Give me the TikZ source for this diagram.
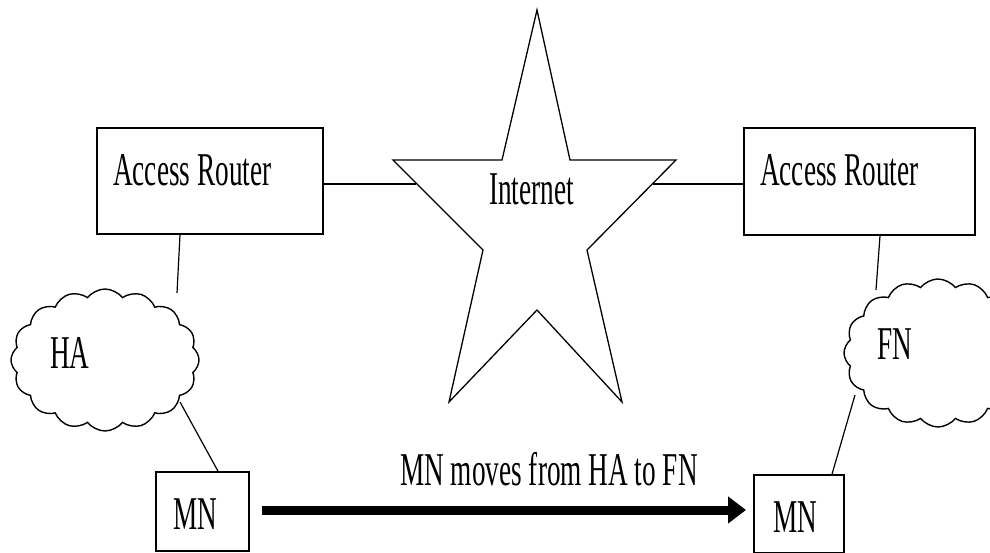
\documentclass[tikz,border=0pt]{standalone}
\usepackage{graphicx}
\usepackage{fontspec}
\setmainfont{Liberation Serif}
\usetikzlibrary{shapes.symbols,arrows.meta}
\newcommand{\lbl}[1]{\scalebox{0.58}[1]{\fontsize{47}{56}\selectfont #1}}
\begin{document}
\begin{tikzpicture}[x=1pt,y=-1pt,
  box/.style={draw, line width=1.6pt, inner sep=0pt, rectangle},
  txt/.style={inner sep=0pt, anchor=base west},
  link/.style={line width=1.2pt},
  starline/.style={line width=1.3pt, line join=miter},
  cloudnode/.style={cloud, draw, line width=1.4pt, cloud puffs=16, cloud puff arc=105, cloud ignores aspect, inner sep=0pt},
  movearrow/.style={line width=9pt, -{Triangle[length=18pt,width=26pt]}}
]
\useasboundingbox (0,0) rectangle (990,553);
\clip (0,0) rectangle (990,553);

% access routers
\node[box, minimum width=226pt, minimum height=106pt] (arl) at (210,181) {};
\node[txt] (arltxt) at (113,186) {\lbl{Access Router}};
\node[box, minimum width=231pt, minimum height=107pt] (arr) at (859.5,181.5) {};
\node[txt] (arrtxt) at (760,186) {\lbl{Access Router}};

% internet star
\coordinate (st1) at (537,10);
\coordinate (st2) at (570,160);
\coordinate (st3) at (676,160);
\coordinate (st4) at (587,250);
\coordinate (st5) at (622,402);
\coordinate (st6) at (537,310);
\coordinate (st7) at (449,402);
\coordinate (st8) at (483,250);
\coordinate (st9) at (393,160);
\coordinate (st10) at (502,160);
\draw[starline] (st1) -- (st2) -- (st3) -- (st4) -- (st5) -- (st6) -- (st7) -- (st8) -- (st9) -- (st10) -- cycle;
\node[txt] (inet) at (489,205) {\lbl{Internet}};
\coordinate (sl) at (416,184);
\coordinate (sr) at (653,184);
\draw[link] (arl.east |- sl) -- (sl);
\draw[link] (sr) -- (arr.west |- sr);

% clouds
\node[cloudnode, minimum width=188pt, minimum height=142pt] (ha) at (105,360) {};
\node[txt] (hatxt) at (50,368) {\lbl{HA}};
\node[cloudnode, minimum width=188pt, minimum height=148pt] (fn) at (938,353) {};
\node[txt] (fntxt) at (877,359) {\lbl{FN}};

% mobile nodes
\node[box, minimum width=93pt, minimum height=79pt] (mnl) at (202.5,511.5) {};
\node[txt] (mnltxt) at (173,529) {\lbl{MN}};
\node[box, minimum width=90pt, minimum height=78pt] (mnr) at (799,514) {};
\node[txt] (mnrtxt) at (773,532) {\lbl{MN}};

% links
\coordinate (hatop) at (177,293);
\coordinate (habot) at (180,402);
\coordinate (fntop) at (876,290);
\coordinate (fnbot) at (855,395);
\draw[link] (arl.south -| 180,0) -- (hatop);
\draw[link] (habot) -- (mnl.north -| 218,0);
\draw[link] (arr.south -| 880,0) -- (fntop);
\draw[link] (fnbot) -- (mnr.north -| 832,0);

% move arrow
\coordinate (as) at (262,510);
\coordinate (ae) at (746,510);
\draw[movearrow] (as) -- (ae);
\node[txt] (movetxt) at (400,485) {\lbl{MN moves from HA to FN}};
\end{tikzpicture}
\end{document}
